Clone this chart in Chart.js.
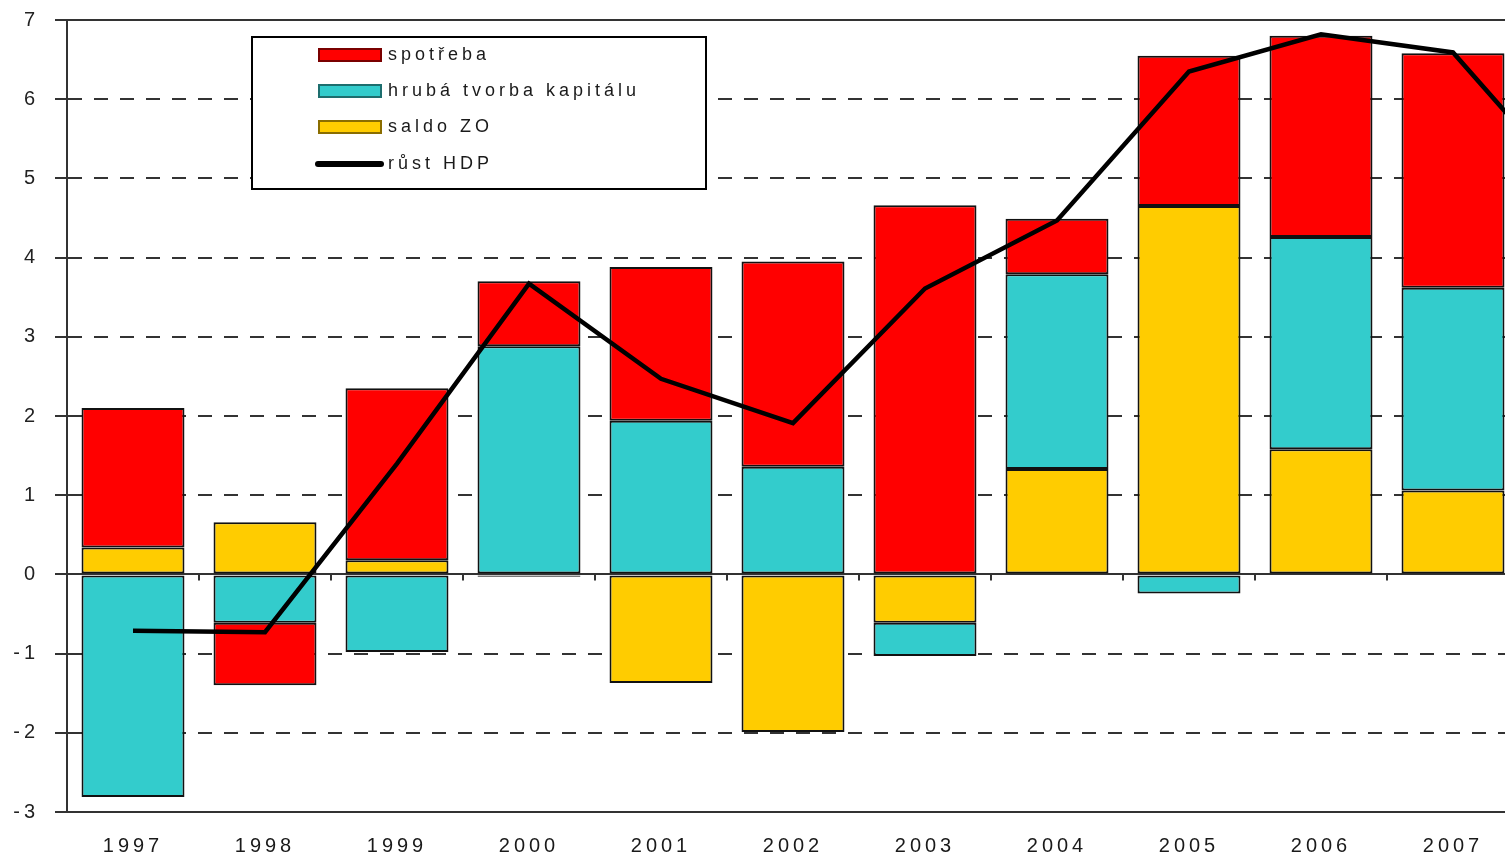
<!DOCTYPE html>
<html>
<head>
<meta charset="utf-8">
<script src="https://cdn.jsdelivr.net/npm/chart.js@4.4.1/dist/chart.umd.min.js"></script>
<style>
  html, body { margin: 0; padding: 0; background: #fff; overflow: hidden; }
  #wrap { width: 1660px; height: 856px; }
</style>
</head>
<body>
<div id="wrap"><canvas id="chart" width="1660" height="856"></canvas></div>
<script>
// data (2008 is cut off at the right edge, only the line reaches into it)
const years = ['1997', '1998', '1999', '2000', '2001', '2002', '2003', '2004', '2005', '2006', '2007', '2008'];
const saldoZO = [0.34, 0.66, 0.18, -0.03, -1.37, -1.99, -0.61, 1.33, 4.65, 1.58, 1.06, null];
const hrubaTvorba = [-2.81, -0.61, -0.98, 2.88, 1.94, 1.36, -0.42, 2.46, -0.24, 2.68, 2.56, null];
const spotreba = [1.76, -0.79, 2.17, 0.82, 1.94, 2.59, 4.66, 0.70, 1.90, 2.54, 2.96, null];
const rustHDP = [-0.71, -0.73, 1.4, 3.67, 2.47, 1.91, 3.61, 4.47, 6.35, 6.82, 6.59, 4.7];
const yMin = -3;
const yMax = 7;
const yStep = 1;

const FONT = "'Liberation Sans', Arial, sans-serif";

const spacing = {
  id: 'spacing',
  beforeUpdate(chart) { chart.ctx.letterSpacing = '4px'; },
  beforeDraw(chart) { chart.ctx.letterSpacing = '4px'; }
};

// little tick marks on the zero line between the categories
const zeroTicks = {
  id: 'zeroTicks',
  beforeDatasetsDraw(chart) {
    const { ctx, scales: { x, y } } = chart;
    const y0 = y.getPixelForValue(0);
    ctx.save();
    ctx.strokeStyle = '#333';
    ctx.lineWidth = 2;
    ctx.beginPath();
    for (let i = 1; i < years.length; i++) {
      const xb = (x.getPixelForValue(i - 1) + x.getPixelForValue(i)) / 2;
      ctx.moveTo(xb, y0);
      ctx.lineTo(xb, y0 + 6);
    }
    ctx.stroke();
    ctx.restore();
  }
};

// boxed legend inside the plot
const legendBox = {
  id: 'legendBox',
  afterDraw(chart) {
    const ctx = chart.ctx;
    const ds = chart.data.datasets;
    const rows = [
      { d: ds[3], edge: '#7a0000', y: 55 },
      { d: ds[2], edge: '#1d6e6e', y: 91 },
      { d: ds[1], edge: '#8a6d00', y: 127 },
      { d: ds[0], y: 164, line: true }
    ];
    ctx.save();
    ctx.fillStyle = '#fff';
    ctx.fillRect(252, 37, 454, 152);
    ctx.strokeStyle = '#000';
    ctx.lineWidth = 2;
    ctx.setLineDash([]);
    ctx.strokeRect(252, 37, 454, 152);
    ctx.font = '18px ' + FONT;
    ctx.letterSpacing = '4px';
    ctx.textBaseline = 'middle';
    ctx.textAlign = 'left';
    rows.forEach(r => {
      if (r.line) {
        ctx.strokeStyle = r.d.borderColor;
        ctx.lineWidth = 6;
        ctx.lineCap = 'round';
        ctx.beginPath();
        ctx.moveTo(318, r.y);
        ctx.lineTo(381, r.y);
        ctx.stroke();
      } else {
        ctx.fillStyle = r.d.backgroundColor;
        ctx.fillRect(319, r.y - 6, 62, 12);
        ctx.strokeStyle = r.edge;
        ctx.lineWidth = 2;
        ctx.strokeRect(319, r.y - 6, 62, 12);
      }
      ctx.fillStyle = '#1a1a1a';
      ctx.fillText(r.d.label, 388, r.y);
    });
    ctx.restore();
  }
};

const barStyle = {
  borderColor: '#111',
  borderWidth: 2,
  borderSkipped: false,
  barPercentage: 0.78,
  categoryPercentage: 1
};

new Chart(document.getElementById('chart'), {
  data: {
    labels: years,
    datasets: [
      {
        type: 'line',
        label: 'růst HDP',
        data: rustHDP,
        borderColor: '#000',
        borderWidth: 4.5,
        pointRadius: 0,
        tension: 0
      },
      Object.assign({ type: 'bar', label: 'saldo ZO', data: saldoZO, backgroundColor: '#FFCC00' }, barStyle),
      Object.assign({ type: 'bar', label: 'hrubá tvorba kapitálu', data: hrubaTvorba, backgroundColor: '#33CCCC' }, barStyle),
      Object.assign({ type: 'bar', label: 'spotřeba', data: spotreba, backgroundColor: '#FF0000' }, barStyle)
    ]
  },
  options: {
    responsive: false,
    animation: false,
    layout: { padding: { top: 20, right: 9, left: 0, bottom: 0 } },
    plugins: {
      legend: { display: false },
      tooltip: { enabled: false }
    },
    scales: {
      x: {
        stacked: true,
        grid: { display: false, drawTicks: false },
        border: { display: true, color: '#333', width: 2 },
        ticks: {
          padding: 22,
          color: '#1a1a1a',
          font: { size: 20, family: FONT },
          maxRotation: 0,
          autoSkip: false
        },
        afterFit(scale) { scale.height = 44; }
      },
      y: {
        stacked: true,
        min: yMin,
        max: yMax,
        ticks: {
          stepSize: yStep,
          padding: 16,
          color: '#222',
          font: { size: 20, family: FONT }
        },
        grid: { color: '#333', lineWidth: 2, tickLength: 12 },
        border: {
          display: true,
          color: '#333',
          width: 2,
          dash: ctx => (ctx.tick && [yMin, 0, yMax].includes(ctx.tick.value) ? [] : [14, 12])
        },
        afterFit(scale) {
          scale.width = 67;
          scale.paddingTop = 0;
          scale.paddingBottom = 0;
        }
      }
    }
  },
  plugins: [spacing, zeroTicks, legendBox]
});
</script>
</body>
</html>
